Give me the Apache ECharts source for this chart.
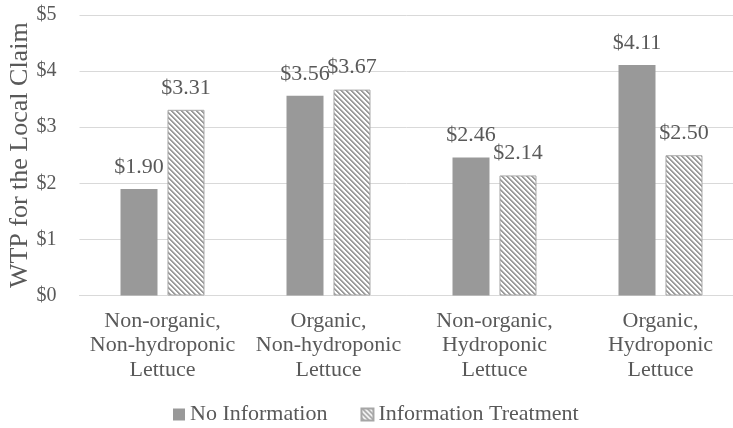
<!DOCTYPE html>
<html><head><meta charset="utf-8">
<script src="https://cdn.jsdelivr.net/npm/echarts@6/dist/echarts.min.js"></script>
<style>html,body{margin:0;padding:0;background:#fff}#c{width:733px;height:428px}</style>
</head><body><div id="c"></div>
<script>
const categories = ['Non-organic,\nNon-hydroponic\nLettuce', 'Organic,\nNon-hydroponic\nLettuce', 'Non-organic,\nHydroponic\nLettuce', 'Organic,\nHydroponic\nLettuce'];
const noInformation = [1.90, 3.56, 2.46, 4.11];
const informationTreatment = [3.31, 3.67, 2.14, 2.50];
const seriesNames = ['No Information', 'Information Treatment'];
const yTicks = [0, 1, 2, 3, 4, 5];

const P = 5;
const pc = document.createElement('canvas');
pc.width = P; pc.height = P;
const pctx = pc.getContext('2d');
pctx.fillStyle = '#ffffff'; pctx.fillRect(0, 0, P, P);
for (let x = 0; x < P; x++) for (let y = 0; y < P; y++) {
  const d = ((x - y) % P + P) % P;
  if (d < 2) { pctx.fillStyle = '#9c9c9c'; pctx.fillRect(x, y, 1, 1); }
  else if (d === 2) { pctx.fillStyle = '#d4d4d4'; pctx.fillRect(x, y, 1, 1); }
}

const font = '"Liberation Serif", "Times New Roman", serif';
const chart = echarts.init(document.getElementById('c'));
chart.setOption({
  animation: false,
  textStyle: { fontFamily: font, color: '#595959' },
  grid: { left: 79.5, width: 664, top: 15, height: 280.5, containLabel: false, outerBoundsMode: 'none' },
  legend: {
    top: 403.5, left: 173, padding: 0, itemWidth: 12, itemHeight: 12, itemGap: 33,
    textStyle: { fontFamily: font, fontSize: 22, color: '#595959' },
    data: seriesNames.map(n => ({ name: n, icon: 'rect' }))
  },
  xAxis: {
    type: 'category', data: categories,
    axisTick: { show: false },
    axisLine: { lineStyle: { color: '#d9d9d9', width: 1 } },
    axisLabel: { fontFamily: font, fontSize: 22, color: '#595959', lineHeight: 24.5, margin: 13, interval: 0 }
  },
  yAxis: {
    type: 'value', min: 0, max: 5, interval: 1,
    name: 'WTP for the Local Claim', nameLocation: 'middle', nameGap: 46.5, nameMoveOverlap: false,
    nameTextStyle: { fontFamily: font, fontSize: 26, color: '#595959' },
    axisLine: { show: false }, axisTick: { show: false },
    splitLine: { lineStyle: { color: '#d9d9d9', width: 1 } },
    axisLabel: { fontFamily: font, fontSize: 20, color: '#595959', margin: 23,
      formatter: v => yTicks.includes(v) ? '$' + v : '' }
  },
  series: [
    { name: seriesNames[0], type: 'bar', data: noInformation, barWidth: 37, barGap: '27%',
      itemStyle: { color: '#999999' },
      label: { show: true, position: 'top', distance: 11, fontFamily: font, fontSize: 22, color: '#595959',
        formatter: p => '$' + p.value.toFixed(2) } },
    { name: seriesNames[1], type: 'bar', data: informationTreatment, barWidth: 37,
      itemStyle: { color: { image: pc, repetition: 'repeat' }, borderColor: '#a6a6a6', borderWidth: 1 },
      label: { show: true, position: 'top', distance: 11, fontFamily: font, fontSize: 22, color: '#595959',
        formatter: p => '$' + p.value.toFixed(2) } }
  ]
});
</script></body></html>
